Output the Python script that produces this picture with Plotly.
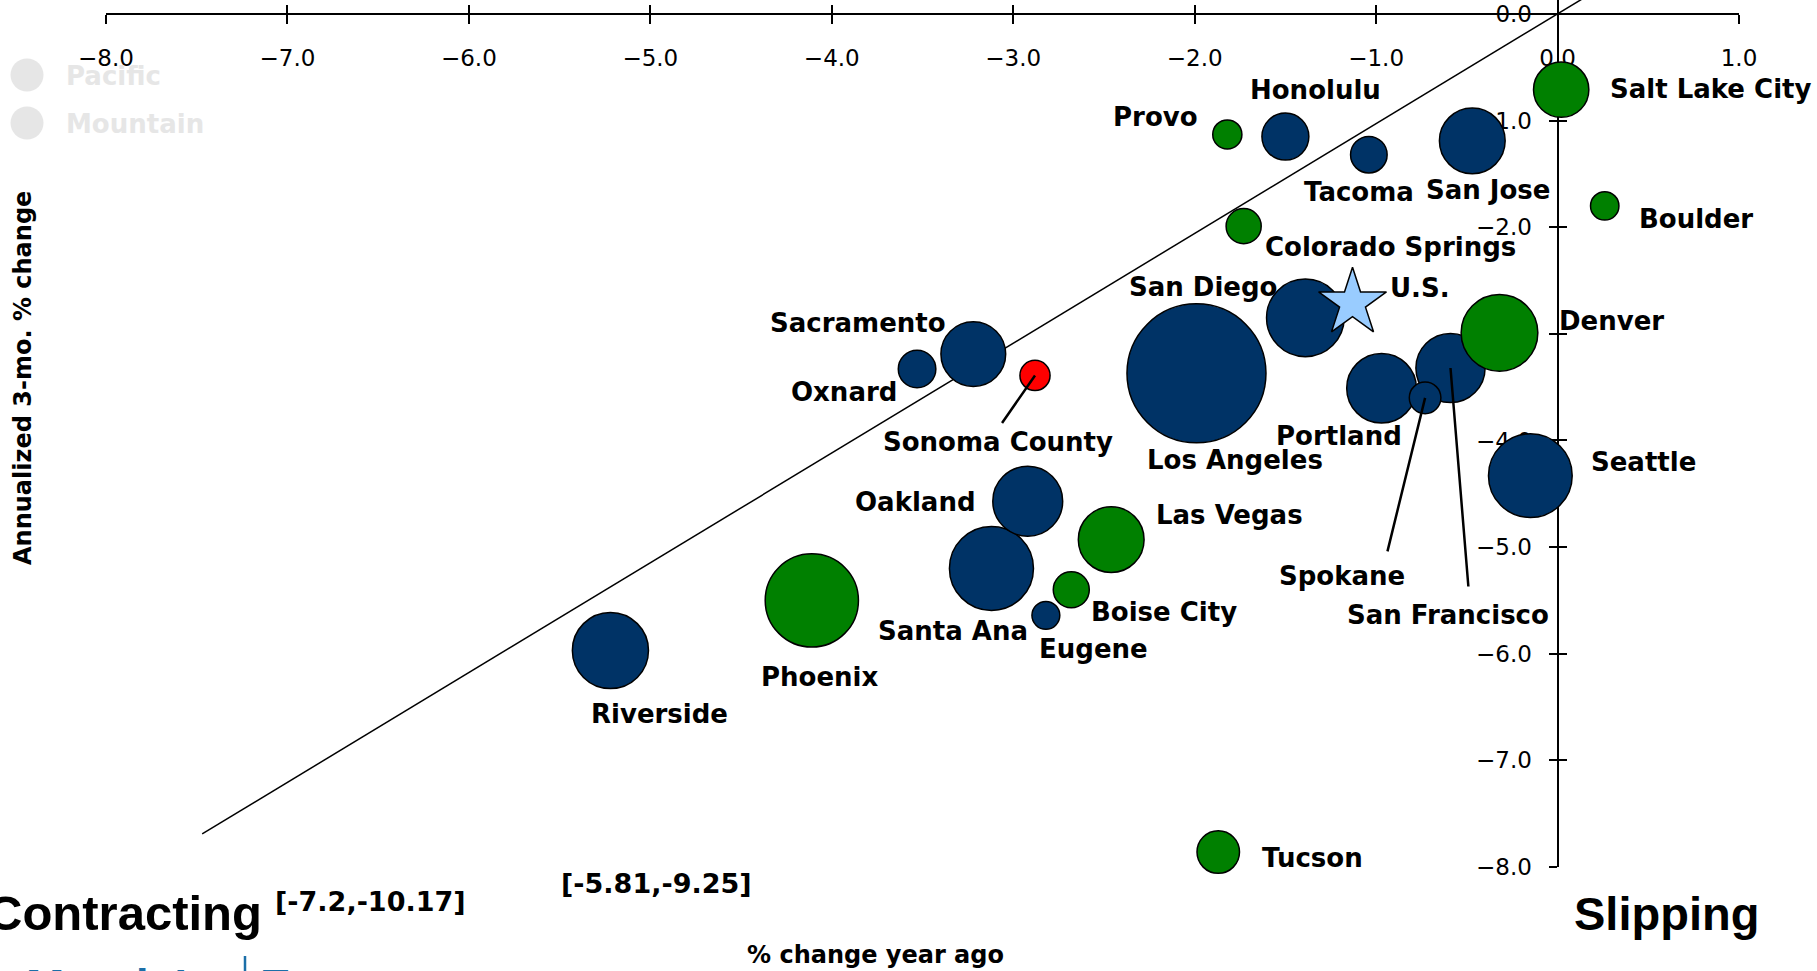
import plotly.graph_objects as go

# West metro areas: % change year ago (x) vs annualized 3-mo. % change (y)
cities = ["Riverside", "Santa Ana", "Oakland", "Eugene", "Oxnard", "Sacramento",
          "Los Angeles", "San Diego", "Portland", "San Francisco", "Spokane",
          "Seattle", "Tacoma", "San Jose", "Honolulu",
          "Phoenix", "Boise City", "Las Vegas", "Tucson", "Colorado Springs",
          "Provo", "Denver", "Boulder", "Salt Lake City", "",
          "Sonoma County"]
region = ["Pacific"] * 15 + ["Mountain"] * 10 + ["Highlight"]
yoy = [-5.22, -3.12, -2.92, -2.82, -3.53, -3.22,
       -1.99, -1.39, -0.97, -0.59, -0.73,
       -0.15, -1.04, -0.47, -1.50,
       -4.11, -2.68, -2.46, -1.87, -1.73,
       -1.82, -0.32, 0.26, 0.02, -0.12,
       -2.88]
ann3m = [-5.97, -5.20, -4.57, -5.64, -3.33, -3.19,
         -3.37, -2.85, -3.51, -3.32, -3.60,
         -4.33, -1.32, -1.19, -1.15,
         -5.50, -5.40, -4.93, -7.86, -1.99,
         -1.13, -2.99, -1.80, -0.71, 0.27,
         -3.39]
# employment, ths (bubble area)
emp = [1199, 1462, 1011, 161, 292, 868,
       4000, 1247, 1005, 991, 207,
       1451, 277, 895, 456,
       1799, 269, 895, 374, 255,
       176, 1218, 167, 634, 262,
       188]

us_yoy = [-1.13]
us_ann3m = [-2.71]

# reference line
diag_x = [-7.47, 0.14]
diag_y = [-7.69, 0.145]

x_range = [-8, 1]
y_range = [-8, 0.131]

colors = {"Pacific": "#003366", "Mountain": "#008000", "Highlight": "#FF0000"}

# label offsets from bubble centre, px (right, down)
label_offset = {
    "Provo": (-72, -17), "Honolulu": (30, -47), "Tacoma": (-10, 37),
    "San Jose": (16, 49), "Salt Lake City": (149, -1), "Boulder": (91, 13),
    "Colorado Springs": (147, 21), "San Diego": (-102, -31), "Denver": (112, -12),
    "Los Angeles": (39, 87), "Sacramento": (-115, -31), "Oxnard": (-73, 23),
    "Sonoma County": (-37, 67), "Portland": (-43, 48), "San Francisco": (-3, 247),
    "Spokane": (-83, 178), "Seattle": (113, -14), "Oakland": (-112, 1),
    "Las Vegas": (118, -25), "Santa Ana": (-38, 63), "Boise City": (93, 22),
    "Eugene": (48, 34), "Phoenix": (8, 77), "Riverside": (49, 63), "Tucson": (94, 6),
}
leader_end = {"Sonoma County": (-34, 49), "Spokane": (-38, 155), "San Francisco": (18, 220)}

# plot area in px
L, R, T, B = 106, 1739, 0, 867
W, H = 1817, 971


def paper(px, py):
    return (px - L) / (R - L), (B - py) / (B - T)


fig = go.Figure()

fig.add_trace(go.Scatter(
    x=diag_x, y=diag_y, mode="lines",
    line=dict(color="black", width=1.5),
    hoverinfo="skip", showlegend=False,
))

for reg in ["Pacific", "Mountain", "Highlight"]:
    idx = [i for i, r in enumerate(region) if r == reg]
    fig.add_trace(go.Scatter(
        x=[yoy[i] for i in idx],
        y=[ann3m[i] for i in idx],
        text=[cities[i] for i in idx],
        mode="markers",
        name=reg,
        marker=dict(
            size=[emp[i] for i in idx],
            sizemode="area",
            sizeref=0.414,
            color=colors[reg],
            opacity=1,
            line=dict(color="black", width=1.5),
        ),
        cliponaxis=False,
        showlegend=False,
        hovertemplate="<b>%{text}</b><br>%{x:.2f}, %{y:.2f}<extra></extra>",
    ))

fig.add_trace(go.Scatter(
    x=us_yoy, y=us_ann3m, mode="markers", name="U.S.",
    marker=dict(symbol="star", size=51, color="#99CCFF",
                line=dict(color="black", width=1.5)),
    cliponaxis=False, showlegend=False,
    hovertemplate="<b>U.S.</b><br>%{x:.2f}, %{y:.2f}<extra></extra>",
))

# dummy trace so the tick-crossing overlay axes are drawn
fig.add_trace(go.Scatter(x=[None], y=[None], xaxis="x2", yaxis="y2",
                         showlegend=False, hoverinfo="skip"))

label_font = dict(family="DejaVu Sans", size=26, color="black", weight="bold")

for i, name in enumerate(cities):
    if name in label_offset:
        dx, dy = label_offset[name]
        fig.add_annotation(x=yoy[i], y=ann3m[i], text=name, showarrow=False,
                           xshift=dx, yshift=-dy, font=label_font,
                           xanchor="center", yanchor="middle")
    if name in leader_end:
        ex, ey = leader_end[name]
        fig.add_annotation(x=yoy[i], y=ann3m[i], text="", showarrow=True,
                           ax=ex, ay=ey, arrowhead=0, arrowwidth=2.5,
                           arrowcolor="black", standoff=0, startstandoff=0)

fig.add_annotation(x=us_yoy[0], y=us_ann3m[0], text="U.S.", showarrow=False,
                   xshift=67, yshift=15, font=label_font)

# free text around the chart
def text_at(px, py, txt, size, xanchor="center", color="black", angle=0, weight="bold",
            family="DejaVu Sans"):
    x, y = paper(px, py)
    fig.add_annotation(x=x, y=y, xref="paper", yref="paper", text=txt, showarrow=False,
                       xanchor=xanchor, yanchor="middle", textangle=angle,
                       font=dict(family=family, size=size, color=color, weight=weight))


text_at(264, 913, "Contracting", 49, xanchor="right", family="Liberation Sans")
text_at(1666, 913, "Slipping", 47, family="Liberation Sans")
text_at(370, 901, "[-7.2,-10.17]", 27)
text_at(656, 884, "[-5.81,-9.25]", 27)
text_at(875, 955, "% change year ago", 24)
text_at(23, 378, "Annualized 3-mo. % change", 24, angle=-90)

# faded legend
legend_grey = "#E6E6E6"
for name, cy in [("Pacific", 75), ("Mountain", 123)]:
    xc, yc = paper(27, cy)
    fig.add_shape(type="circle", xref="paper", yref="paper",
                  xsizemode="pixel", ysizemode="pixel", xanchor=xc, yanchor=yc,
                  x0=-16.5, x1=16.5, y0=-16.5, y1=16.5,
                  fillcolor=legend_grey, line=dict(width=0))
    text_at(64, cy + 1, name, 26, xanchor="left", color=legend_grey)

# cut-off logo at bottom left
logo_blue = "#1B6FA8"
text_at(24, 986, "Moody’s", 46, xanchor="left", color=logo_blue,
        family="Liberation Sans")
text_at(258, 986, "Economy.com", 46, xanchor="left", color=logo_blue,
        family="Liberation Sans")
x0, y0 = paper(245, 956)
x1, y1 = paper(245, 990)
fig.add_shape(type="line", xref="paper", yref="paper", x0=x0, x1=x1, y0=y0, y1=y1,
              line=dict(color=logo_blue, width=2.5))

# axes cross at the origin
x_pos = (0 - y_range[0]) / (y_range[1] - y_range[0])
y_pos = (0 - x_range[0]) / (x_range[1] - x_range[0])
tick_font = dict(family="DejaVu Sans", size=23, color="black")

fig.update_layout(
    width=W, height=H,
    margin=dict(l=L, r=W - R, t=T, b=H - B, pad=0),
    plot_bgcolor="white", paper_bgcolor="white",
    showlegend=False,
    xaxis=dict(
        range=x_range, dtick=1, tick0=0, tickformat=".1f",
        anchor="free", position=x_pos, side="bottom",
        showline=True, linecolor="black", linewidth=2,
        ticks="outside", ticklen=9, tickwidth=2, tickcolor="black",
        ticklabelstandoff=14, tickfont=tick_font,
        showgrid=False, zeroline=False, layer="below traces",
    ),
    yaxis=dict(
        range=y_range, dtick=1, tick0=0, tickformat=".1f",
        anchor="free", position=y_pos, side="left",
        showline=True, linecolor="black", linewidth=2,
        ticks="outside", ticklen=8, tickwidth=2, tickcolor="black",
        ticklabelstandoff=12, tickfont=tick_font,
        showgrid=False, zeroline=False, layer="below traces",
    ),
    xaxis2=dict(
        range=x_range, dtick=1, tick0=0, overlaying="x",
        anchor="free", position=x_pos, side="bottom",
        showline=False, ticks="inside", ticklen=9, tickwidth=2, tickcolor="black",
        showticklabels=False, showgrid=False, zeroline=False, layer="below traces",
    ),
    yaxis2=dict(
        range=y_range, dtick=1, tick0=0, overlaying="y",
        anchor="free", position=y_pos, side="left",
        showline=False, ticks="inside", ticklen=8, tickwidth=2, tickcolor="black",
        showticklabels=False, showgrid=False, zeroline=False, layer="below traces",
    ),
)

fig.write_html("out.html", config={"displayModeBar": False},
               post_script="document.body.style.margin='0px';")
